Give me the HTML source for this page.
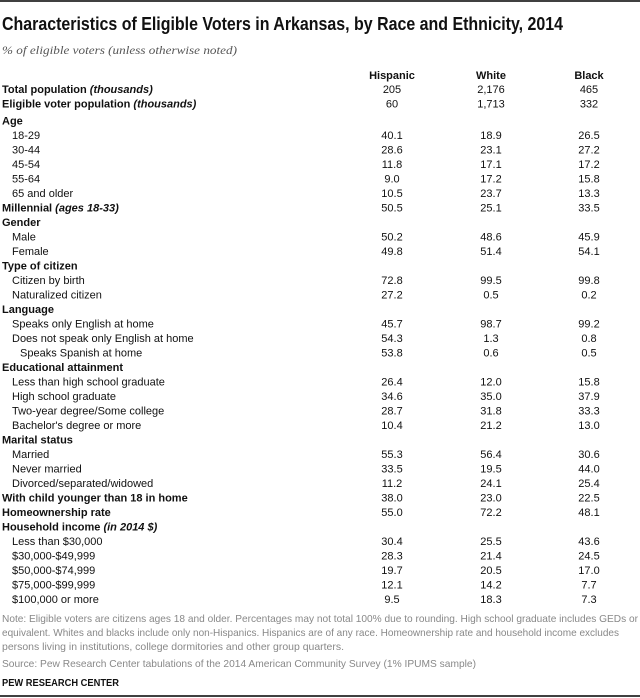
<!DOCTYPE html>
<html><head><meta charset="utf-8"><style>
html,body{margin:0;padding:0;background:#fff;}
svg{display:block;font-family:"Liberation Sans",sans-serif;}
</style></head><body>
<svg id="t" width="640" height="698" viewBox="0 0 640 698">
<line x1="0" y1="1" x2="640" y2="1" stroke="#000" stroke-width="1.5"/>
<text x="2" y="30" font-size="18" font-weight="bold" fill="#111" textLength="561" lengthAdjust="spacingAndGlyphs">Characteristics of Eligible Voters in Arkansas, by Race and Ethnicity, 2014</text>
<text x="2" y="54" font-size="12" font-style="italic" fill="#555" font-family="Liberation Serif, serif" textLength="235" lengthAdjust="spacingAndGlyphs">% of eligible voters (unless otherwise noted)</text>
<g id="hdr" font-size="11" font-weight="bold" text-anchor="middle" fill="#111">
<text x="392" y="79">Hispanic</text>
<text x="491" y="79">White</text>
<text x="589" y="79">Black</text>
</g>
<g id="rows" font-size="11" fill="#111"></g>
<g font-size="10.5" fill="#888">
<text x="2" y="622" textLength="636" lengthAdjust="spacingAndGlyphs">Note: Eligible voters are citizens ages 18 and older. Percentages may not total 100% due to rounding. High school graduate includes GEDs or</text>
<text x="2" y="636" textLength="617" lengthAdjust="spacingAndGlyphs">equivalent. Whites and blacks include only non-Hispanics. Hispanics are of any race. Homeownership rate and household income excludes</text>
<text x="2" y="650" textLength="342" lengthAdjust="spacingAndGlyphs">persons living in institutions, college dormitories and other group quarters.</text>
<text x="2" y="667" textLength="474" lengthAdjust="spacingAndGlyphs">Source: Pew Research Center tabulations of the 2014 American Community Survey (1% IPUMS sample)</text>
</g>
<text x="2" y="686" font-size="10.5" font-weight="bold" fill="#111" textLength="117" lengthAdjust="spacingAndGlyphs">PEW RESEARCH CENTER</text>
<line x1="0" y1="696" x2="640" y2="696" stroke="#000" stroke-width="1.5"/>
</svg>
<script>
const labels=["Total population|(thousands)","Eligible voter population|(thousands)","Age","18-29","30-44","45-54","55-64","65 and older","Millennial|(ages 18-33)","Gender","Male","Female","Type of citizen","Citizen by birth","Naturalized citizen","Language","Speaks only English at home","Does not speak only English at home","Speaks Spanish at home","Educational attainment","Less than high school graduate","High school graduate","Two-year degree/Some college","Bachelor's degree or more","Marital status","Married","Never married","Divorced/separated/widowed","With child younger than 18 in home","Homeownership rate","Household income|(in 2014 $)","Less than $30,000","$30,000-$49,999","$50,000-$74,999","$75,000-$99,999","$100,000 or more"];
const rowTypes=["h","h","h","s","s","s","s","s","h","h","s","s","h","s","s","h","s","s","s2","h","s","s","s","s","h","s","s","s","h","h","h","s","s","s","s","s"];
const hispanic=["205","60","","40.1","28.6","11.8","9.0","10.5","50.5","","50.2","49.8","","72.8","27.2","","45.7","54.3","53.8","","26.4","34.6","28.7","10.4","","55.3","33.5","11.2","38.0","55.0","","30.4","28.3","19.7","12.1","9.5"];
const white=["2,176","1,713","","18.9","23.1","17.1","17.2","23.7","25.1","","48.6","51.4","","99.5","0.5","","98.7","1.3","0.6","","12.0","35.0","31.8","21.2","","56.4","19.5","24.1","23.0","72.2","","25.5","21.4","20.5","14.2","18.3"];
const black=["465","332","","26.5","27.2","17.2","15.8","13.3","33.5","","45.9","54.1","","99.8","0.2","","99.2","0.8","0.5","","15.8","37.9","33.3","13.0","","30.6","44.0","25.4","22.5","48.1","","43.6","24.5","17.0","7.7","7.3"];
const NS="http://www.w3.org/2000/svg";
const g=document.getElementById('rows');
function yOf(i){return 93+i*14.5+(i>=2?2.6:0);}
labels.forEach((lab,i)=>{
  const y=yOf(i);const t=rowTypes[i];
  const tx=document.createElementNS(NS,'text');
  tx.setAttribute('x',t==='h'?2:(t==='s'?12:20));
  tx.setAttribute('y',y);
  if(t==='h')tx.setAttribute('font-weight','bold');
  const parts=lab.split('|');
  tx.textContent=parts[0];
  if(parts[1]){const sp=document.createElementNS(NS,'tspan');sp.setAttribute('font-style','italic');sp.textContent=' '+parts[1];tx.appendChild(sp);}
  
  
  g.appendChild(tx);
  [[hispanic,392,'hispanic'],[white,491,'white'],[black,589,'black']].forEach(([arr,x,n])=>{
    if(!arr[i])return;
    const v=document.createElementNS(NS,'text');
    v.setAttribute('x',x);v.setAttribute('y',y);v.setAttribute('text-anchor','middle');
    v.textContent=arr[i];
    
    
    g.appendChild(v);
  });
});
</script>
</body></html>
